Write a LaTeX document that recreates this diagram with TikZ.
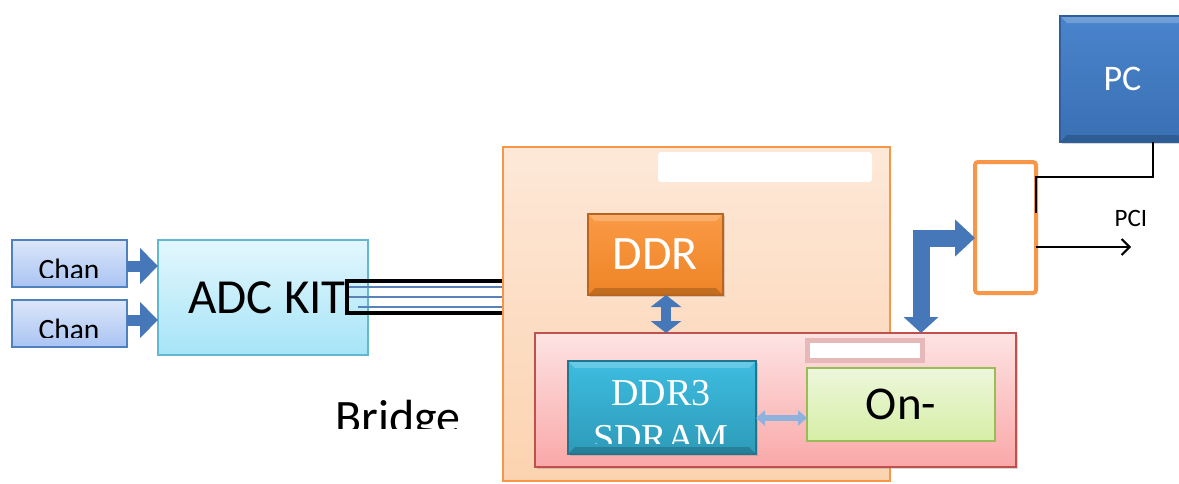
\documentclass[tikz,border=0pt]{standalone}
\usepackage{fontspec}
\setmainfont{Carlito}
\newfontfamily\serifdr{Liberation Serif}
\usetikzlibrary{arrows.meta,shadows}

\definecolor{chantop}{HTML}{DCE6FA}
\definecolor{chanbot}{HTML}{A9C4F2}
\definecolor{chanline}{HTML}{4F81BD}
\definecolor{adctop}{HTML}{E3F7FD}
\definecolor{adcbot}{HTML}{A6E4F7}
\definecolor{adcline}{HTML}{62B8CE}
\definecolor{fpgatop}{HTML}{FDE8D8}
\definecolor{fpgabot}{HTML}{FCD3B0}
\definecolor{orline}{HTML}{F79646}
\definecolor{ddrtop}{HTML}{FA9A45}
\definecolor{ddrbot}{HTML}{EE8426}
\definecolor{ddrline}{HTML}{B9651F}
\definecolor{pinktop}{HTML}{FDE3E3}
\definecolor{pinkbot}{HTML}{FAA8A8}
\definecolor{pinkline}{HTML}{C0504D}
\definecolor{tagpink}{HTML}{E6B9B8}
\definecolor{sdtop}{HTML}{3DBCE0}
\definecolor{sdbot}{HTML}{2E9BB9}
\definecolor{sdline}{HTML}{21768E}
\definecolor{ontop}{HTML}{EDF7DC}
\definecolor{onbot}{HTML}{D6EEA6}
\definecolor{online}{HTML}{9BBB59}
\definecolor{pctop}{HTML}{4A84CC}
\definecolor{pcbot}{HTML}{3A70B4}
\definecolor{pcline}{HTML}{2F5F99}
\definecolor{arrowblue}{HTML}{4678B9}
\definecolor{thinarrow}{HTML}{8FB1DE}
\definecolor{cableblue}{HTML}{5A82B8}

\begin{document}
\begin{tikzpicture}[x=1pt,y=-1pt,
    box/.style={rectangle, inner sep=0pt, outer sep=0pt, line width=1.2pt},
    bevel/.style={path picture={
        \fill[white,opacity=.22] (path picture bounding box.north west) -- (path picture bounding box.north east)
          -- ([shift={(-7pt,-7pt)}]path picture bounding box.north east) -- ([shift={(7pt,-7pt)}]path picture bounding box.north west) -- cycle;
        \fill[black,opacity=.18] (path picture bounding box.south west) -- (path picture bounding box.south east)
          -- ([shift={(-7pt,7pt)}]path picture bounding box.south east) -- ([shift={(7pt,7pt)}]path picture bounding box.south west) -- cycle;}},
    softshadow/.style={drop shadow={opacity=.3, shadow xshift=2pt, shadow yshift=-2pt}},
    chanarrow/.style={draw=arrowblue, line width=11pt, -{Triangle[width=35pt,length=18pt]}},
    ddrlink/.style={draw=arrowblue, line width=10pt, {Triangle[width=30pt,length=12pt]}-{Triangle[width=30pt,length=12pt]}},
    busarrow/.style={draw=arrowblue, line width=17pt, line join=miter, {Triangle[width=34pt,length=16pt]}-{Triangle[width=36pt,length=20pt]}},
    thinlink/.style={draw=thinarrow, line width=6pt, {Triangle[width=15pt,length=9pt]}-{Triangle[width=15pt,length=9pt]}},
    cable/.style={draw=cableblue, line width=2pt},
    wire/.style={draw=black, line width=2pt}]

  % page
  \fill[white] (0,0) rectangle (1179,483);
  \useasboundingbox (0,0) rectangle (1179,483);
  \clip (0,0) rectangle (1179,483);

  % draw channels
  \foreach \n/\y in {A/263.5, B/323.5} {
    \node[box, draw=chanline, top color=chantop, bottom color=chanbot,
          minimum width=115pt, minimum height=47pt] (chan\n) at (69.5,\y) {};
    \begin{scope}
      \clip (12,\y-23) rectangle (127,\y+13.5);
      \node[anchor=base, font=\fontsize{29.5}{34}\selectfont] at (69,\y+15.5) {Chan};
    \end{scope}
  }

  % draw ADC kit
  \node[box, draw=adcline, top color=adctop, bottom color=adcbot,
        minimum width=210pt, minimum height=115pt] (adc) at (263,297.5) {};
  \node[font=\fontsize{49}{58}\selectfont] at (adc.center -| 267,0) {ADC KIT};
  \draw[chanarrow] (chanA.east |- 0,266) -- (adc.west |- 0,266);
  \draw[chanarrow] (chanB.east |- 0,320) -- (adc.west |- 0,320);

  % draw bridge cable
  \draw[line width=4pt] (347,281) rectangle (530,313);
  \foreach \y/\x in {287/349, 297/349, 307/358}
    \draw[cable] (\x,\y) -- (505,\y);
  \begin{scope}
    \clip (300,380) rectangle (500,428);
    \node[anchor=base, font=\fontsize{48}{56}\selectfont] (bridge) at (398,433) {Bridge};
  \end{scope}

  % draw FPGA board
  \node[box, draw=orline, top color=fpgatop, bottom color=fpgabot,
        minimum width=387pt, minimum height=334pt] (fpga) at (696.5,314) {};
  \node[box, fill=white, rounded corners=3pt, minimum width=214pt, minimum height=30pt] (fpgatag) at (765,167) {};
  \node[box, draw=ddrline, top color=ddrtop, bottom color=ddrbot, bevel, softshadow,
        minimum width=135pt, minimum height=81pt, text=white, font=\fontsize{48}{56}\selectfont] (ddr) at (655.5,254.5) {DDR};

  % draw memory board
  \node[box, draw=pinkline, top color=pinktop, bottom color=pinkbot, softshadow,
        minimum width=481pt, minimum height=134pt] (board) at (775.5,400) {};
  \node[box, draw=tagpink, line width=5pt, fill=white, minimum width=115pt, minimum height=20pt] (boardtag) at (865,350.5) {};
  \draw[ddrlink] (ddr.south -| 666,0) -- (board.north -| 666,0);

  \node[box, draw=sdline, top color=sdtop, bottom color=sdbot, bevel, softshadow,
        minimum width=188pt, minimum height=93pt] (sdram) at (662,407.5) {};
  \begin{scope}
    \clip (568,361) rectangle (756,443);
    \node[anchor=base, text=white, font=\serifdr\fontsize{38}{44}\selectfont] at (661,405) {DDR3};
    \node[anchor=base, text=white, font=\serifdr\fontsize{38}{44}\selectfont] at (661,450) {SDRAM};
  \end{scope}

  \node[box, draw=online, top color=ontop, bottom color=onbot,
        minimum width=188pt, minimum height=73pt, font=\fontsize{47}{54}\selectfont] (onchip) at (901,404.5) {\raisebox{-4pt}{On-}};
  \draw[thinlink] (sdram.east |- 0,418) -- (onchip.west |- 0,418);

  % draw switch and PC
  \node[box, draw=orline, line width=4pt, fill=white, rounded corners=3pt,
        minimum width=61pt, minimum height=131pt] (sw) at (1005.5,227.5) {};
  \draw[busarrow] (board.north -| 921,0) |- (sw.west |- 0,238);

  \node[box, draw=pcline, top color=pctop, bottom color=pcbot, bevel, softshadow,
        minimum width=125pt, minimum height=126pt, text=white, font=\fontsize{36}{42}\selectfont] (pc) at (1122.5,79) {PC};
  \draw[wire] (pc.south -| 1153,0) |- (sw.east |- 0,177) -- (sw.east |- 0,213);

  % PCI link
  \coordinate (pciend) at (1131,247);
  \draw[wire, -{Straight Barb[width=16pt,length=8pt]}] (sw.east |- pciend) -- (pciend);
  \node[font=\fontsize{25}{30}\selectfont] (pcilabel) at (1131,218) {PCI};
\end{tikzpicture}
\end{document}
